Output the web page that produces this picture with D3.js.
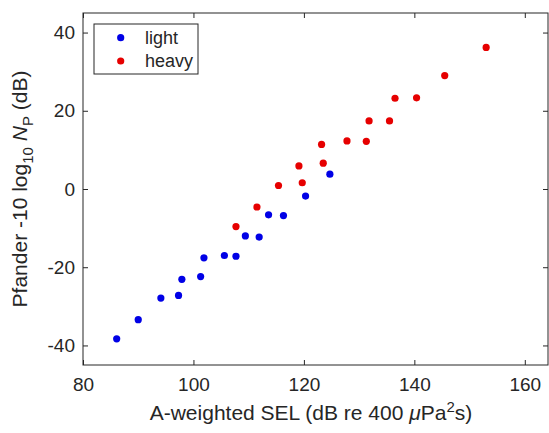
<!DOCTYPE html>
<html lang="en">
<head>
    <meta charset="UTF-8">
    <script src="https://d3js.org/d3.v7.min.js"></script>
    <title>SEL scatter</title>
    <style>
        body { margin: 0; background: #fff; }
        text { font-family: "Liberation Sans", Arial, sans-serif; fill: #262626; }
    </style>
</head>
<body>
    <div class="chart"></div>

    <script>
        // light vehicles
        const lightSEL = [86.1, 90.0, 94.1, 97.3, 97.9, 101.3, 101.9, 105.6, 107.7, 109.4, 111.9, 113.6, 116.3, 120.3, 124.7];
        const lightNP  = [-38.3, -33.4, -27.9, -27.2, -23.1, -22.4, -17.6, -17.0, -17.2, -12.0, -12.3, -6.6, -6.8, -1.8, 3.8];
        // heavy vehicles
        const heavySEL = [107.7, 111.5, 115.4, 119.1, 119.7, 123.5, 123.2, 127.8, 131.3, 131.8, 135.5, 136.5, 140.4, 145.5, 153.0];
        const heavyNP  = [-9.6, -4.6, 0.9, 5.9, 1.6, 6.6, 11.4, 12.3, 12.2, 17.4, 17.4, 23.2, 23.3, 29.0, 36.2];

        const xTicks = [80, 100, 120, 140, 160];
        const yTicks = [-40, -20, 0, 20, 40];
        const seriesNames = ["light", "heavy"];
        const seriesColors = ["#0000e6", "#e60000"];

        const W = 549, H = 433;
        const mLeft = 83, mRight = 548, mTop = 13, mBottom = 365;

        const svg = d3.select(".chart")
          .append("svg")
          .attr("width", W)
          .attr("height", H);

        const x = d3.scaleLinear().domain([80, 164.2]).range([mLeft, mRight]);
        const y = d3.scaleLinear().domain([-45, 45]).range([mBottom, mTop]);

        const axisColor = "#262626";
        const fmt = d => String(d);  // plain hyphen minus, like the original

        // ticks inside the box, MATLAB style
        svg.append("g")
          .attr("transform", "translate(0," + mBottom + ")")
          .call(d3.axisBottom(x).tickValues(xTicks).tickFormat(fmt).tickSizeInner(-5).tickSizeOuter(0).tickPadding(13))
          .call(g => g.select(".domain").remove());
        svg.append("g")
          .attr("transform", "translate(0," + mTop + ")")
          .call(d3.axisTop(x).tickValues(xTicks).tickSizeInner(-5).tickSizeOuter(0).tickFormat(""))
          .call(g => g.select(".domain").remove());
        svg.append("g")
          .attr("transform", "translate(" + mLeft + ",0)")
          .call(d3.axisLeft(y).tickValues(yTicks).tickFormat(fmt).tickSizeInner(-5).tickSizeOuter(0).tickPadding(8))
          .call(g => g.select(".domain").remove());
        svg.append("g")
          .attr("transform", "translate(" + mRight + ",0)")
          .call(d3.axisRight(y).tickValues(yTicks).tickSizeInner(-5).tickSizeOuter(0).tickFormat(""))
          .call(g => g.select(".domain").remove());

        svg.selectAll(".tick line").attr("stroke", axisColor);
        svg.selectAll(".tick text")
          .attr("fill", axisColor)
          .style("font-size", "19px")
          .style("font-family", "Liberation Sans, Arial, sans-serif");

        svg.append("rect")
          .attr("x", mLeft).attr("y", mTop)
          .attr("width", mRight - mLeft).attr("height", mBottom - mTop)
          .attr("fill", "none")
          .attr("stroke", axisColor)
          .attr("stroke-width", 1);

        const series = [
          { name: seriesNames[0], color: seriesColors[0], xs: lightSEL, ys: lightNP },
          { name: seriesNames[1], color: seriesColors[1], xs: heavySEL, ys: heavyNP }
        ];

        series.forEach(s => {
          svg.append("g")
            .selectAll("circle")
            .data(s.xs.map((v, i) => [v, s.ys[i]]))
            .enter()
            .append("circle")
            .attr("cx", d => x(d[0]))
            .attr("cy", d => y(d[1]))
            .attr("r", 3.6)
            .attr("fill", s.color);
        });

        // legend
        const lg = svg.append("g").attr("transform", "translate(94,24)");
        lg.append("rect")
          .attr("width", 104).attr("height", 50)
          .attr("fill", "#fff")
          .attr("stroke", axisColor);
        series.forEach((s, i) => {
          lg.append("circle")
            .attr("cx", 26.7).attr("cy", 13.7 + i * 23.3)
            .attr("r", 3.6).attr("fill", s.color);
          lg.append("text")
            .attr("x", 51).attr("y", 13.7 + i * 23.3 + 6)
            .style("font-size", "18px")
            .text(s.name);
        });

        // axis labels
        const xl = svg.append("text")
          .attr("x", 311)
          .attr("y", 420)
          .attr("text-anchor", "middle")
          .style("font-size", "21px");
        xl.append("tspan").text("A-weighted SEL (dB re 400 ");
        xl.append("tspan").style("font-style", "italic").text("\u03bc");
        xl.append("tspan").text("Pa");
        xl.append("tspan").attr("dy", -8).style("font-size", "15px").text("2");
        xl.append("tspan").attr("dy", 8).text("s)");

        const yl = svg.append("text")
          .attr("transform", "translate(27," + ((mTop + mBottom) / 2) + ") rotate(-90)")
          .attr("text-anchor", "middle")
          .style("font-size", "21px");
        yl.append("tspan").text("Pfander -10 log");
        yl.append("tspan").attr("dy", 6).style("font-size", "15px").text("10");
        yl.append("tspan").attr("dy", -6).text(" ");
        yl.append("tspan").style("font-style", "italic").text("N");
        yl.append("tspan").attr("dy", 6).style("font-size", "15px").text("P");
        yl.append("tspan").attr("dy", -6).text(" (dB)");
      </script>
</body>
</html>
